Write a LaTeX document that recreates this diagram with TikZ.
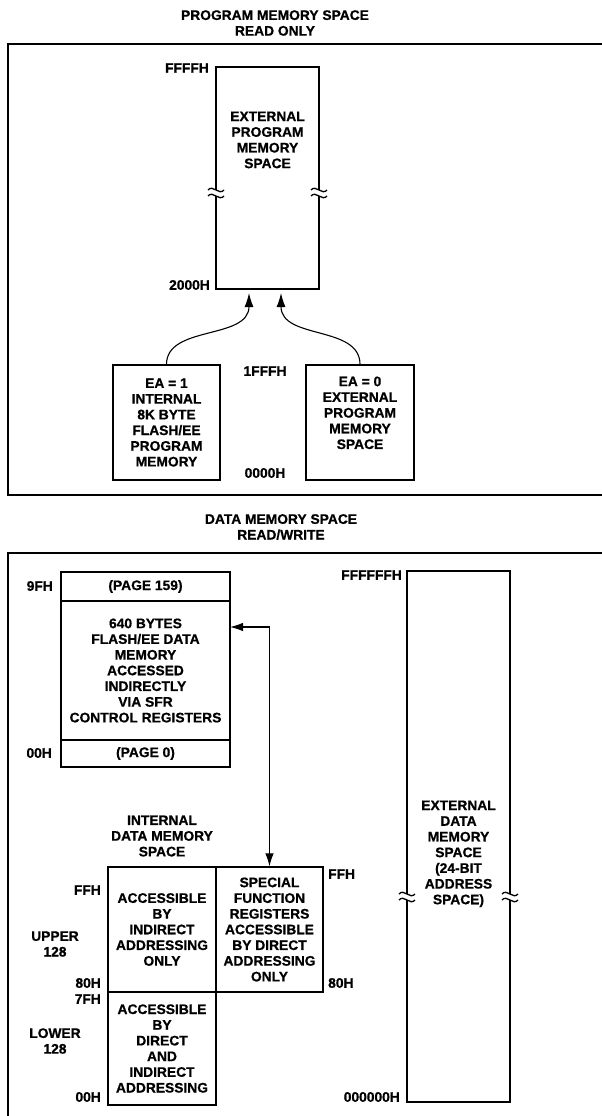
\documentclass[tikz,border=0pt]{standalone}
\usepackage{fontspec}
\setmainfont{Liberation Sans}[BoldFeatures={FakeBold=0.8}]
\usetikzlibrary{positioning,arrows.meta}

\begin{document}
\begin{tikzpicture}[x=1pt,y=-1pt,
   font=\fontsize{13.8}{15.7}\selectfont\bfseries,
   membox/.style={draw,line width=1.3pt,inner sep=0pt,align=center},
   txt/.style={inner sep=0pt,align=center},
   bigframe/.style={line width=2.2pt},
   arr/.style={line width=1.1pt,-{Latex[length=14pt,width=9pt]}},
   dblarr/.style={line width=1.1pt,{Latex[length=13pt,width=8.5pt]}-{Latex[length=13pt,width=8.5pt]}},
   brk/.pic={
      \fill[white] (-1.5,-3) rectangle (1.5,3);
      \draw[line width=1.3pt] (-8,-3) .. controls (-3,-9) and (3,3) .. (8,-3);
      \draw[line width=1.3pt] (-8,3) .. controls (-3,-3) and (3,9) .. (8,3);
   }]
   \useasboundingbox (0,0) rectangle (602,1116);

   \node[txt] (progtitle) at (275,23) {PROGRAM MEMORY SPACE\\READ ONLY};
   \draw[bigframe] (8,44) rectangle (620,495);
   \node[membox,minimum width=103pt,minimum height=222pt] (extprog) at (267.5,178) {};
   \node[txt,below=45pt of extprog.north] (extprogtxt) {EXTERNAL\\PROGRAM\\MEMORY\\SPACE};
   \node[txt,anchor=east] (hffff) at (209,68) {FFFFH};
   \node[txt,anchor=east] (h2000) at (210,285) {2000H};
   \pic at (216,193) {brk};
   \pic at (319,193) {brk};
   \node[membox,minimum width=107pt,minimum height=115pt] (ea1) at (166.5,422.5) {EA = 1\\INTERNAL\\8K BYTE\\FLASH/EE\\PROGRAM\\MEMORY};
   \node[membox,minimum width=108pt,minimum height=115pt] (ea0) at (360,422.5) {};
   \node[txt,below=12pt of ea0.north] (ea0txt) {EA = 0\\EXTERNAL\\PROGRAM\\MEMORY\\SPACE};
   \node[txt] (h1fff) at (265,371) {1FFFH};
   \node[txt] (h0000) at (265,473) {0000H};
   \coordinate (tipL) at (249,293);
   \coordinate (tipR) at (281,293);
   \draw[arr] (ea1.north) .. controls (166.5,325) and (249,340) .. (tipL);
   \draw[arr] (ea0.north) .. controls (360,325) and (281,340) .. (tipR);

   \node[txt] (datatitle) at (281,527) {DATA MEMORY SPACE\\READ/WRITE};
   \draw[bigframe] (8,553) rectangle (620,1130);
   \node[membox,minimum width=169pt,minimum height=29pt] (p159) at (145.5,586.5) {(PAGE 159)};
   \node[membox,minimum width=169pt,minimum height=139pt] (flashmem) at (145.5,670.5) {640 BYTES\\FLASH/EE DATA\\MEMORY\\ACCESSED\\INDIRECTLY\\VIA SFR\\CONTROL REGISTERS};
   \node[membox,minimum width=169pt,minimum height=27pt] (p0) at (145.5,753.5) {(PAGE 0)};
   \node[txt,anchor=east] (h9f) at (53,586) {9FH};
   \node[txt,anchor=east] (h00p) at (52,753) {00H};

   \node[membox,minimum width=103pt,minimum height=531pt] (extdata) at (458.5,836.5) {};
   \node[txt,below=230pt of extdata.north] (extdatatxt) {EXTERNAL\\DATA\\MEMORY\\SPACE\\(24-BIT\\ADDRESS\\SPACE)};
   \pic at (407,897) {brk};
   \pic at (510,897) {brk};
   \node[txt,anchor=east] (hffffff) at (402,575) {FFFFFFH};
   \node[txt,anchor=east] (h000000) at (400,1097) {000000H};

   \node[txt] (inttitle) at (162,836) {INTERNAL\\DATA MEMORY\\SPACE};
   \node[membox,minimum width=108pt,minimum height=125pt] (upper) at (162,929.5) {ACCESSIBLE\\BY\\INDIRECT\\ADDRESSING\\ONLY};
   \node[membox,minimum width=107pt,minimum height=125pt] (sfr) at (269.5,929.5) {SPECIAL\\FUNCTION\\REGISTERS\\ACCESSIBLE\\BY DIRECT\\ADDRESSING\\ONLY};
   \node[membox,minimum width=108pt,minimum height=113pt] (lower) at (162,1048.5) {ACCESSIBLE\\BY\\DIRECT\\AND\\INDIRECT\\ADDRESSING};
   \node[txt,anchor=east] (hff) at (101,890) {FFH};
   \node[txt] (up128) at (55,944) {UPPER\\128};
   \node[txt,anchor=east] (h80) at (101,983) {80H};
   \node[txt,anchor=east] (h7f) at (101,999) {7FH};
   \node[txt] (low128) at (55,1041) {LOWER\\128};
   \node[txt,anchor=east] (h00) at (101,1097) {00H};
   \node[txt,anchor=west] (hffsfr) at (328,874) {FFH};
   \node[txt,anchor=west] (h80sfr) at (328,983) {80H};
   \coordinate (flashin) at (230,627);
   \draw[dblarr] (flashin) -| (sfr.north);
\end{tikzpicture}
\end{document}
